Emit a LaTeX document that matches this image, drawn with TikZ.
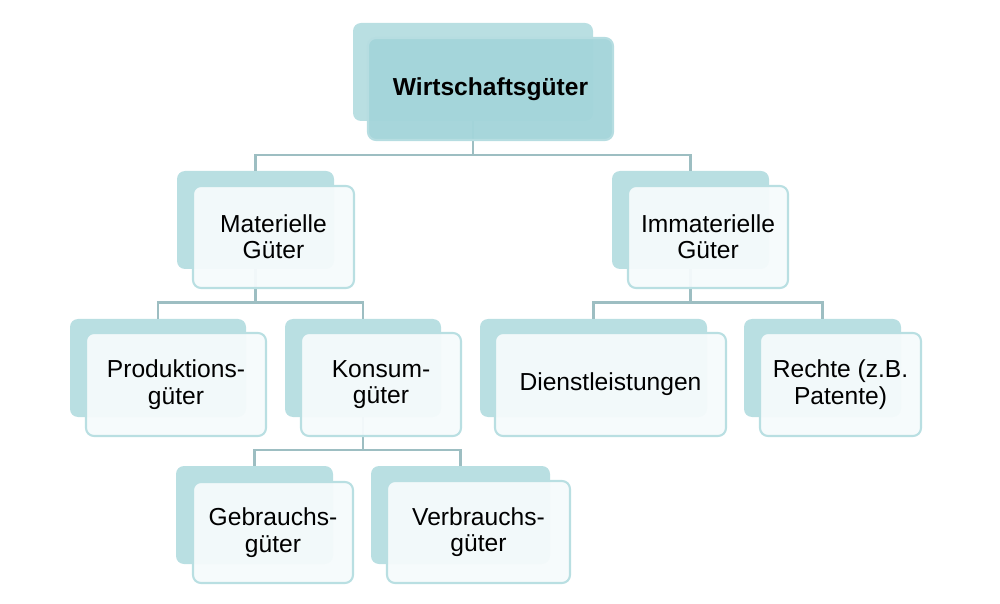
\documentclass[tikz,border=0pt]{standalone}
\usepackage{fontspec}
\setmainfont{Liberation Sans}
\begin{document}
\def\u{0.02cm}
\definecolor{backc}{HTML}{B9DFE2}
\definecolor{frontc}{HTML}{F6FBFC}
\definecolor{topc}{HTML}{A4D5DA}
\definecolor{linec}{HTML}{9DBEC2}
\begin{tikzpicture}[x=0.02cm,y=-0.02cm,
  backbox/.style={fill=backc, draw=none, rounded corners=0.16cm, inner sep=0pt, minimum height=98*\u},
  frontbox/.style={fill=frontc, fill opacity=0.95, text opacity=1, draw=backc, line width=1.2pt, rounded corners=0.16cm, inner sep=0pt, align=center, font=\fontsize{14}{15}\selectfont},
  topfront/.style={fill=topc, fill opacity=0.97, text opacity=1, draw=topc!80!white, line width=1.2pt, rounded corners=0.16cm, inner sep=0pt, align=center, font=\fontsize{14}{15}\selectfont\bfseries},
  conn/.style={draw=linec, line width=1.4pt}]
\path[use as bounding box] (0,0) rectangle (1000,604);
% back boxes
\node[backbox, minimum width=240*\u] (tb) at (473,72) {};
\node[backbox, minimum width=157*\u] (mb) at (255.5,220) {};
\node[backbox, minimum width=157*\u] (ib) at (690.5,220) {};
\node[backbox, minimum width=176*\u] (pb) at (158,368) {};
\node[backbox, minimum width=156*\u] (kb) at (363,368) {};
\node[backbox, minimum width=227*\u] (db) at (593.5,368) {};
\node[backbox, minimum width=157*\u] (rb) at (822.5,368) {};
\node[backbox, minimum width=157*\u] (gb) at (254.5,515) {};
\node[backbox, minimum width=179*\u] (vb) at (460.5,515) {};
% connectors
\coordinate (j1) at (473,155);
\coordinate (j2) at (255.5,302.5);
\coordinate (j3) at (690.5,302.5);
\coordinate (j4) at (363,450);
\draw[conn] (tb.south) -- (j1);
\draw[conn] (mb.north) |- (j1) -| (ib.north);
\draw[conn] (mb.south) -- (j2);
\draw[conn] (pb.north) |- (j2) -| (kb.north);
\draw[conn] (ib.south) -- (j3);
\draw[conn] (db.north) |- (j3) -| (rb.north);
\draw[conn] (kb.south) -- (j4);
\draw[conn] (gb.north) |- (j4) -| (vb.north);
% front boxes
\node[topfront, minimum width=245*\u, minimum height=102*\u] (t) at (490.5,89) {Wirtschaftsgüter};
\node[frontbox, minimum width=161*\u, minimum height=102*\u] (m) at (273.5,237) {Materielle\\Güter};
\node[frontbox, minimum width=160*\u, minimum height=102*\u] (i) at (708,237) {Immaterielle\\Güter};
\node[frontbox, minimum width=180*\u, minimum height=103*\u] (p) at (176,384.5) {Produktions-\\güter};
\node[frontbox, minimum width=160*\u, minimum height=103*\u] (k) at (381,384.5) {Konsum-\\güter};
\node[frontbox, minimum width=231*\u, minimum height=103*\u] (d) at (610.5,384.5) {Dienstleistungen};
\node[frontbox, minimum width=161*\u, minimum height=103*\u] (r) at (840.5,384.5) {Rechte (z.B.\\Patente)};
\node[frontbox, minimum width=160*\u, minimum height=101*\u] (g) at (273,532.5) {Gebrauchs-\\güter};
\node[frontbox, minimum width=183*\u, minimum height=102*\u] (v) at (478.5,532) {Verbrauchs-\\güter};
\end{tikzpicture}
\end{document}
